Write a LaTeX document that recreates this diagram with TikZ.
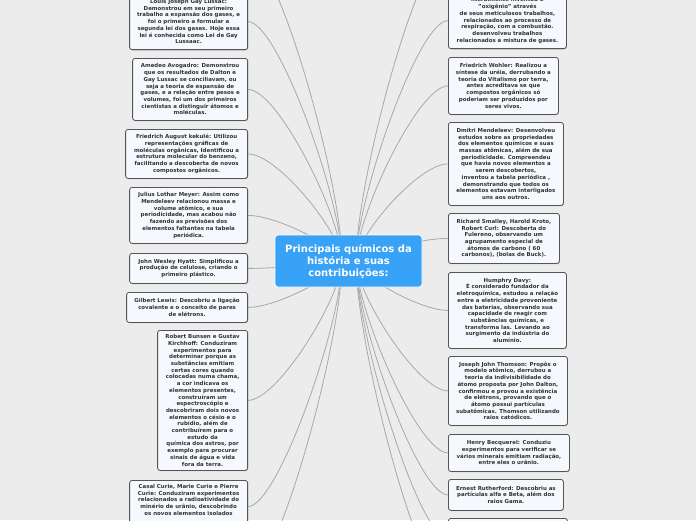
\documentclass[tikz,border=0pt]{standalone}
\usepackage{fontspec}
\setmainfont{DejaVu Sans}
\usetikzlibrary{calc,shadows}
\definecolor{bgcol}{RGB}{236,236,236}
\definecolor{boxfill}{RGB}{245,248,253}
\definecolor{boxline}{RGB}{85,85,85}
\definecolor{txt}{RGB}{51,51,51}
\definecolor{rootfill}{RGB}{56,162,247}
\definecolor{conncol}{RGB}{168,168,168}
\pgfdeclarelayer{bg}
\pgfsetlayers{bg,main}
\tikzset{
  leaf/.style={draw=boxline, line width=0.8pt, fill=boxfill, rounded corners=2.5pt,
    text=txt, align=center, font=\bfseries\fontsize{5.45}{6.7}\selectfont, inner sep=3pt,
    drop shadow={shadow xshift=0.5pt, shadow yshift=-0.8pt, fill=black, opacity=0.22}},
  rootbox/.style={draw=white, line width=0.8pt, fill=rootfill, rounded corners=3pt,
    text=white, align=center, font=\bfseries\fontsize{10}{12}\selectfont,
    minimum width=147pt, minimum height=52pt, inner sep=2pt},
  conn/.style={draw=conncol, line width=0.8pt},
}
\newcommand\lconn[1]{\draw[conn] (#1) .. controls +(30,0) and ($(rootL)!0.25!(rootL |- #1)$) .. (rootL);}
\newcommand\rconn[1]{\draw[conn] (#1) .. controls +(-30,0) and ($(rootR)!0.25!(rootR |- #1)$) .. (rootR);}
\begin{document}
\begin{tikzpicture}[x=1pt,y=-1pt]
\useasboundingbox (0,0) rectangle (696,520);
\clip (0,0) rectangle (696,520);

\node[rootbox] (root) at (348.5,261) {Principais químicos da\\história e suas\\contribuições:};
\coordinate (rootL) at (342,261);
\coordinate (rootR) at (356,261);

% left side
\node[leaf, anchor=south east, minimum width=118pt, minimum height=56pt] (L0) at (248,50)
 {Louis Joseph Gay Lussac:\\Demonstrou em seu primeiro\\trabalho a expansão dos gases, e\\foi o primeiro a formular a\\segunda lei dos gases. Hoje essa\\lei é conhecida como Lei de Gay\\Lussaac.};
\node[leaf, anchor=north east, minimum width=115pt, minimum height=62pt] (L1) at (248,58)
 {Amedeo Avogadro: Demonstrou\\que os resultados de Dalton e\\Gay Lussac se conciliavam, ou\\seja a teoria de espansão de\\gases, e a relação entre pesos e\\volumes, foi um dos primeiros\\cientistas a distinguir átomos e\\moléculas.};
\node[leaf, anchor=north east, minimum width=122pt, minimum height=49pt] (L2) at (248,129)
 {Friedrich August kekulé: Utilizou\\representações gráficas de\\moléculas orgânicas, Identificou a\\estrutura molecular do benzeno,\\facilitando a descoberta de novos\\compostos orgânicos.};
\node[leaf, anchor=north east, minimum width=118pt, minimum height=56pt] (L3) at (248,187)
 {Julius Lothar Meyer: Assim como\\Mendeleev relacionou massa e\\volume atômico, e sua\\periodicidade, mas acabou não\\fazendo as previsões dos\\elementos faltantes na tabela\\periódica.};
\node[leaf, anchor=north east, minimum width=118pt, minimum height=30pt] (L4) at (248,253)
 {John Wesley Hyatt: Simplificou a\\produção de celulose, criando o\\primeiro plástico.};
\node[leaf, anchor=north east, minimum width=121pt, minimum height=30pt] (L5) at (248,292)
 {Gilbert Lewis: Descobriu a ligação\\covalente e o conceito de pares\\de elétrons.};
\node[leaf, anchor=north east, minimum width=90pt, minimum height=140pt] (L6) at (248,330)
 {Robert Bunsen e Gustav\\Kirchhoff: Conduziram\\experimentos para\\determinar porque as\\substâncias emitiam\\certas cores quando\\colocadas numa chama,\\a cor indicava os\\elementos presentes,\\construíram um\\espectroscópio e\\descobriram dois novos\\elementos o césio e o\\rubídio, além de\\contribuírem para o\\estudo da\\química dos astros, por\\exemplo para procurar\\sinais de água e vida\\fora da terra.};
\node[leaf, anchor=north east, minimum width=118pt, inner ysep=4pt] (L7) at (248,480)
 {Casal Curie, Marie Curie e Pierre\\Curie: Conduziram experimentos\\relacionados a radioatividade do\\minério de urânio, descobrindo\\os novos elementos isolados\\\mbox{}\\\mbox{}};
\coordinate (LT) at (248,-45);
\coordinate (LB) at (248,575);

% right side
\node[leaf, anchor=south west, minimum width=118pt, minimum height=56pt] (R0) at (448,49)
 {literalmente inventou o\\"oxigênio" através\\de seus meticulosos trabalhos,\\relacionados ao processo de\\respiração, com a combustão.\\desenvolveu trabalhos\\relacionados a mistura de gases.};
\node[leaf, anchor=north west, minimum width=110pt, minimum height=57pt] (R1) at (448,57)
 {Friedrich Wohler: Realizou a\\síntese da uréia, derrubando a\\teoria do Vitalismo por terra,\\antes acreditava se que\\compostos orgânicos só\\poderiam ser produzidos por\\seres vivos.};
\node[leaf, anchor=north west, minimum width=115pt, minimum height=83pt] (R2) at (448,122)
 {Dmitri Mendeleev: Desenvolveu\\estudos sobre as propriedades\\dos elementos químicos e suas\\massas atômicas, além de sua\\periodicidade. Compreendeu\\que havia novos elementos a\\serem descobertos,\\inventou a tabela periódica ,\\demonstrando que todos os\\elementos estavam interligados\\uns aos outros.};
\node[leaf, anchor=north west, minimum width=111pt, minimum height=50pt] (R3) at (448,213)
 {Richard Smalley, Harold Kroto,\\Robert Curl: Descoberta do\\Fulereno, observando um\\agrupamento especial de\\átomos de carbono ( 60\\carbonos), (bolas de Buck).};
\node[leaf, anchor=north west, minimum width=118pt, minimum height=76pt] (R4) at (448,272)
 {Humphry Davy:\\É considerado fundador da\\eletroquímica, estudou a relação\\entre a eletricidade proveniente\\das baterias, observando sua\\capacidade de reagir com\\substâncias químicas, e\\transforma las. Levando ao\\surgimento da indústria do\\alumínio.};
\node[leaf, anchor=north west, minimum width=119pt, minimum height=69pt] (R5) at (448,356)
 {Joseph John Thomson: Propôs o\\modelo atômico, derrubou a\\teoria da indivisibilidade do\\átomo proposta por John Dalton,\\confirmou e provou a existência\\de elétrons, provando que o\\átomo possui partículas\\subatômicas. Thomson utilizando\\raios catódicos.};
\node[leaf, anchor=north west, minimum width=121pt, minimum height=37pt] (R6) at (448,434)
 {Henry Becquerel: Conduziu\\experimentos para verificar se\\vários minerais emitiam radiação,\\entre eles o urânio.};
\node[leaf, anchor=north west, minimum width=115pt, minimum height=31pt] (R7) at (448,479)
 {Ernest Rutherford: Descobriu as\\partículas alfa e Beta, além dos\\raios Gama.};
\node[leaf, anchor=north west, minimum width=119pt, minimum height=40pt] (R8) at (448,518) {};
\coordinate (RT) at (448,-50);
\coordinate (RB) at (448,585);

\begin{pgfonlayer}{bg}
  \fill[bgcol] (0,0) rectangle (696,520);
  \lconn{LT}
  \lconn{L0.east}
  \lconn{L1.east}
  \lconn{L2.east}
  \lconn{L3.east}
  \lconn{L4.east}
  \lconn{L5.east}
  \lconn{L6.east}
  \lconn{L7.east}
  \lconn{LB}
  \rconn{RT}
  \rconn{R0.west}
  \rconn{R1.west}
  \rconn{R2.west}
  \rconn{R3.west}
  \rconn{R4.west}
  \rconn{R5.west}
  \rconn{R6.west}
  \rconn{R7.west}
  \rconn{R8.west}
  \rconn{RB}
\end{pgfonlayer}
\end{tikzpicture}
\end{document}
